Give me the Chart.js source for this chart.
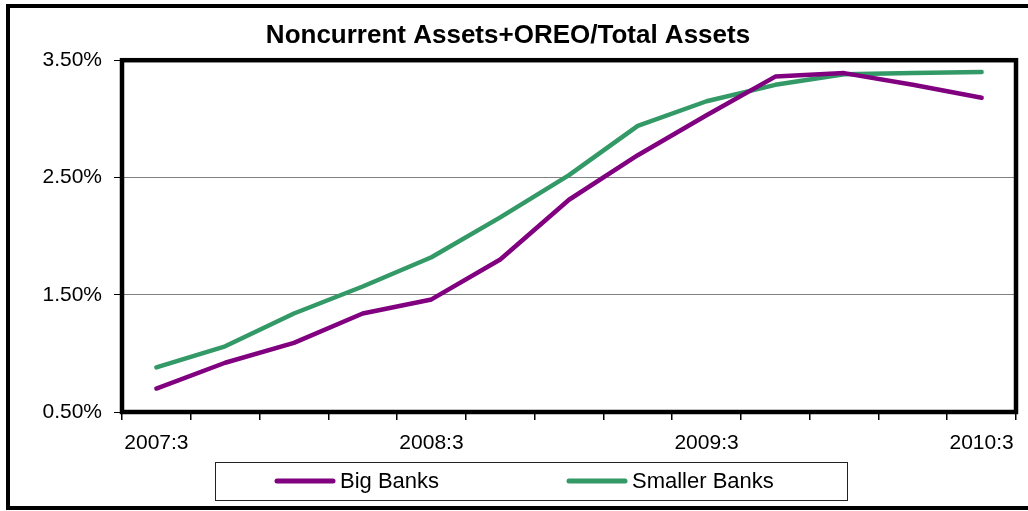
<!DOCTYPE html>
<html>
<head>
<meta charset="utf-8">
<script src="https://cdn.jsdelivr.net/npm/chart.js@4/dist/chart.umd.min.js"></script>
<style>
  html, body { margin: 0; padding: 0; background: #fff; overflow: hidden; }
  #chart { display: block; }
</style>
</head>
<body>
<canvas id="chart" width="1028" height="511"></canvas>
<script>
// quarters 2007:3 .. 2010:3
const quarters = ['2007:3', '2007:4', '2008:1', '2008:2', '2008:3', '2008:4', '2009:1',
                  '2009:2', '2009:3', '2009:4', '2010:1', '2010:2', '2010:3'];
const bigBanks     = [0.70, 0.92, 1.09, 1.34, 1.46, 1.80, 2.31, 2.69, 3.03, 3.36, 3.39, 3.29, 3.18];
const smallerBanks = [0.88, 1.06, 1.34, 1.57, 1.82, 2.16, 2.52, 2.94, 3.15, 3.29, 3.38, 3.39, 3.40];
const yTicks = [0.5, 1.5, 2.5, 3.5];

const FONT = "'Liberation Sans', Arial, sans-serif";
Chart.defaults.font.family = FONT;
Chart.defaults.color = '#000';

// outer frame, plot border and the boxed legend
const framePlugin = {
    id: 'frame',
    beforeDraw(chart) {
        const ctx = chart.ctx;
        ctx.save();
        ctx.strokeStyle = '#000';
        ctx.lineWidth = 4;
        ctx.strokeRect(8, 6, 1060, 502);
        ctx.restore();
    },
    afterDraw(chart) {
        const ctx = chart.ctx;
        const a = chart.chartArea;
        ctx.save();
        ctx.strokeStyle = '#000';
        ctx.lineWidth = 4.5;
        ctx.strokeRect(a.left, a.top, a.right - a.left, a.bottom - a.top);

        // legend box
        ctx.lineWidth = 1;
        ctx.strokeStyle = '#222';
        ctx.strokeRect(215.5, 462.5, 632, 38);

        const starts = [277, 569];
        ctx.font = '22px ' + FONT;
        ctx.textBaseline = 'middle';
        ctx.fillStyle = '#000';
        chart.data.datasets.forEach((ds, i) => {
            const x = starts[i];
            const y = 481;
            ctx.beginPath();
            ctx.lineWidth = 5;
            ctx.lineCap = 'round';
            ctx.strokeStyle = ds.borderColor;
            ctx.moveTo(x, y);
            ctx.lineTo(x + 56, y);
            ctx.stroke();
            ctx.fillText(ds.label, x + 63, y + 1);
        });
        ctx.restore();
    }
};

new Chart(document.getElementById('chart'), {
    type: 'line',
    data: {
        labels: quarters,
        datasets: [
            {
                label: 'Big Banks',
                data: bigBanks,
                borderColor: '#800080',
                borderWidth: 4.5,
                pointRadius: 0,
                tension: 0,
                borderCapStyle: 'round',
                borderJoinStyle: 'round'
            },
            {
                label: 'Smaller Banks',
                data: smallerBanks,
                borderColor: '#339966',
                borderWidth: 4.5,
                pointRadius: 0,
                tension: 0,
                borderCapStyle: 'round',
                borderJoinStyle: 'round'
            }
        ]
    },
    options: {
        responsive: false,
        animation: false,
        devicePixelRatio: 1,
        layout: { padding: { left: 0, top: 9, right: 12, bottom: 57 } },
        plugins: {
            legend: { display: false },
            tooltip: { enabled: false },
            title: {
                display: true,
                text: 'Noncurrent Assets+OREO/Total Assets',
                color: '#000',
                font: { size: 26, weight: 'bold' },
                padding: { top: 11, bottom: 9 }
            }
        },
        scales: {
            x: {
                offset: true,
                border: { display: false },
                grid: {
                    offset: true,
                    drawOnChartArea: false,
                    drawTicks: true,
                    tickLength: 8,
                    tickColor: '#000',
                    lineWidth: 1.5
                },
                ticks: {
                    autoSkip: false,
                    maxRotation: 0,
                    padding: 11,
                    font: { size: 21 },
                    callback: (v, i) => (i % 4 === 0 ? quarters[i] : '')
                },
                afterFit: (s) => { s.height = 42; }
            },
            y: {
                min: 0.5,
                max: 3.5,
                border: { display: false },
                afterBuildTicks: (s) => { s.ticks = yTicks.map(v => ({ value: v })); },
                grid: {
                    color: '#808080',
                    lineWidth: 1,
                    drawTicks: true,
                    tickLength: 8,
                    tickColor: '#000'
                },
                ticks: {
                    padding: 12,
                    font: { size: 21 },
                    callback: (v) => v.toFixed(2) + '%'
                },
                afterFit: (s) => { s.width = 122; }
            }
        }
    },
    plugins: [framePlugin]
});
</script>
</body>
</html>
